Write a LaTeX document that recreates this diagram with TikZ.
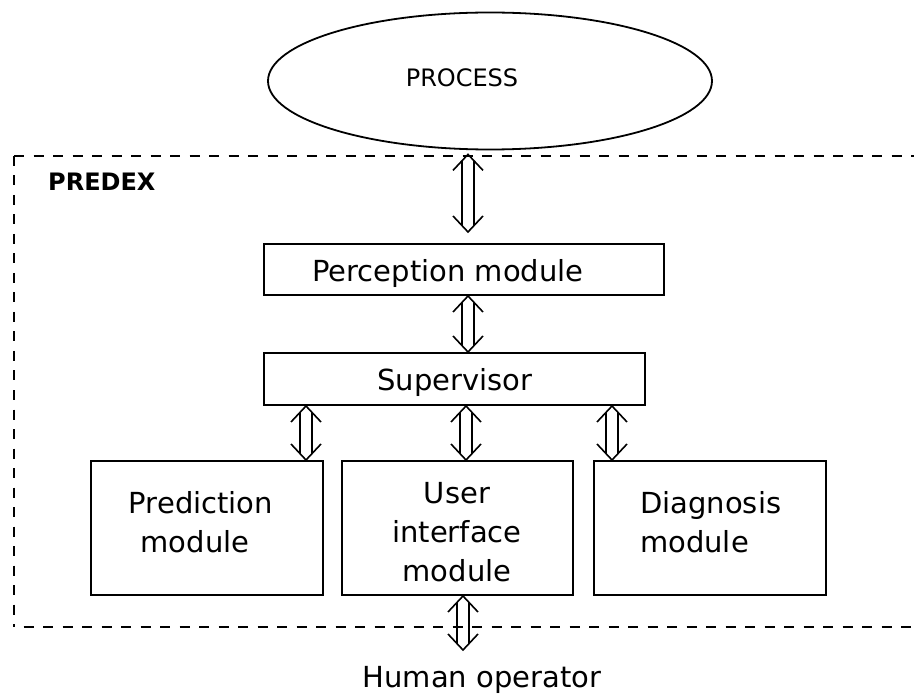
\documentclass[tikz,border=0pt]{standalone}
\usepackage{fontspec}
\setmainfont{DejaVu Sans}
\usetikzlibrary{shapes.geometric,calc}
\tikzset{
  box/.style={draw, line width=2pt, inner sep=0pt},
  lbl/.style={font=\fontsize{29}{34}\selectfont, inner sep=0pt, anchor=base},
  dblarrow/.style={line width=1.6pt, line join=miter, to path={
    let \p1=(\tikztostart), \p2=(\tikztotarget) in
    (\x1-15pt,\y1-16pt) -- (\x1,\y1) -- (\x1+15pt,\y1-16pt)
    (\x1-6pt,\y1-6pt) -- (\x1-6pt,\y2+6pt)
    (\x1+6pt,\y1-6pt) -- (\x1+6pt,\y2+6pt)
    (\x1-15pt,\y2+16pt) -- (\x1,\y2) -- (\x1+15pt,\y2+16pt)
  }},
  frame/.style={line width=2.2pt, dash pattern=on 10pt off 9.5pt}
}
\begin{document}
\begin{tikzpicture}[x=1pt,y=-1pt]
\useasboundingbox (0,0) rectangle (914,695);
% process ellipse
\node[ellipse, draw, line width=1.8pt, minimum width=444pt, minimum height=137pt, inner sep=0pt] (proc) at (490,81) {};
\node[lbl, font=\fontsize{24}{28}\selectfont] (proct) at (462,87) {PROCESS};
% PREDEX frame
\draw[frame] (14,156) -- (930,156);
\draw[frame] (14,156) -- (14,627);
\draw[frame, dash phase=10pt] (14,627) -- (930,627);
\node[lbl, font=\fontsize{24}{28}\selectfont\bfseries, anchor=base west] (predex) at (48,191) {PREDEX};
% boxes
\node[box, minimum width=400pt, minimum height=51pt] (perc) at (464,269.5) {};
\node[lbl] (perct) at (448,282) {Perception module};
\node[box, minimum width=381pt, minimum height=52pt] (sup) at (454.5,379) {};
\node[lbl] (supt) at (455,391) {Supervisor};
\node[box, minimum width=232pt, minimum height=134pt] (pred) at (207,528) {};
\node[lbl] (predt1) at (201,513) {Prediction};
\node[lbl] (predt2) at (195,552) {module};
\node[box, minimum width=231pt, minimum height=134pt] (ui) at (457.5,528) {};
\node[lbl] (uit1) at (457,503) {User};
\node[lbl] (uit2) at (457,542) {interface};
\node[lbl] (uit3) at (457,581) {module};
\node[box, minimum width=232pt, minimum height=134pt] (diag) at (710,528) {};
\node[lbl, anchor=base west] (diagt1) at (640,513) {Diagnosis};
\node[lbl, anchor=base west] (diagt2) at (640,552) {module};
\node[lbl] (human) at (482,687) {Human operator};
% arrow x positions
\coordinate (ax1) at (468,0);
\coordinate (ax2) at (468,0);
\coordinate (ax3) at (306,0);
\coordinate (ax4) at (466,0);
\coordinate (ax5) at (612,0);
\coordinate (ax6) at (463,0);
\coordinate (t1) at ([yshift=-4pt]proc.south);
\coordinate (t2) at ([yshift=11pt]perc.north);
\coordinate (hop) at (463,650);
% double arrows
\draw[dblarrow] (t1 -| ax1) to (t2 -| ax1);
\draw[dblarrow] (perc.south -| ax2) to (sup.north -| ax2);
\draw[dblarrow] (sup.south -| ax3) to (pred.north -| ax3);
\draw[dblarrow] (sup.south -| ax4) to (ui.north -| ax4);
\draw[dblarrow] (sup.south -| ax5) to (diag.north -| ax5);
\draw[dblarrow] (ui.south -| ax6) to (hop);
\end{tikzpicture}
\end{document}
